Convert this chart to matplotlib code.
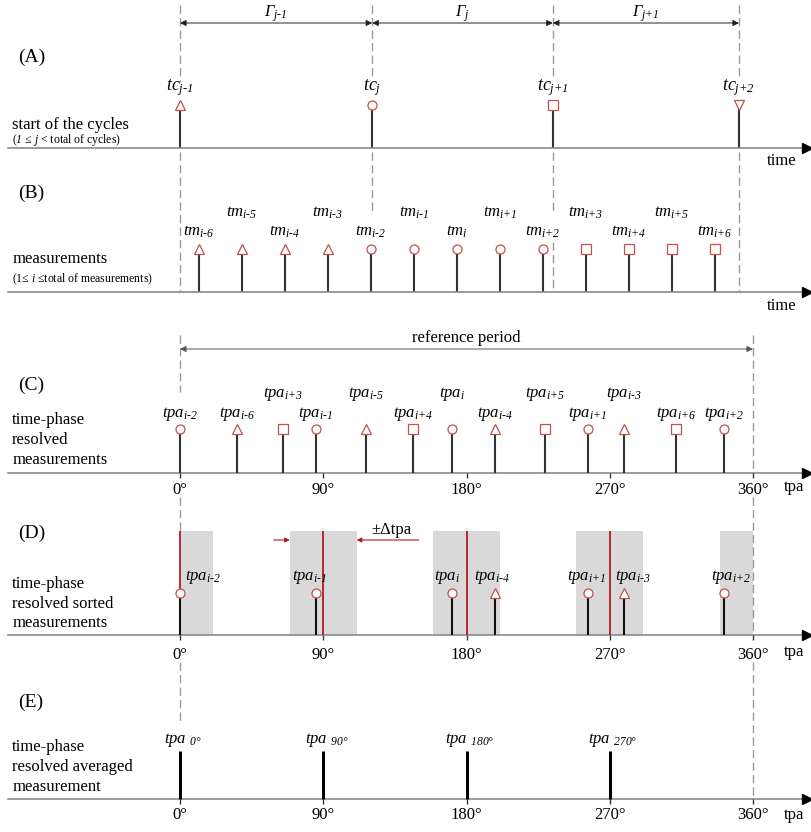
import matplotlib.pyplot as plt
from matplotlib.transforms import blended_transform_factory

plt.rcParams['font.family'] = ['Liberation Serif', 'DejaVu Serif']
plt.rcParams['mathtext.fontset'] = 'custom'
plt.rcParams['mathtext.it'] = 'Liberation Serif:italic'
plt.rcParams['mathtext.rm'] = 'Liberation Serif:italic'

CYCLE_NAMES = ['j-1', 'j', 'j+1', 'j+2']
CYCLE_START = [0.0, 4.47, 8.67, 13.0]          # time, in measurement intervals
MEAS_NAMES = ['i-6', 'i-5', 'i-4', 'i-3', 'i-2', 'i-1', 'i',
              'i+1', 'i+2', 'i+3', 'i+4', 'i+5', 'i+6']
MEAS_TIME = [0.44, 1.44, 2.44, 3.44, 4.44, 5.44, 6.44,
             7.44, 8.44, 9.44, 10.44, 11.44, 12.44]
MEAS_CYCLE = [0, 0, 0, 0, 1, 1, 1, 1, 1, 2, 2, 2, 2]
MEAS_PHASE = [35.6, 116.7, 197.7, 278.8, 0.0, 85.3, 170.9,
              256.1, 342.0, 64.5, 146.6, 229.1, 311.6]   # degrees
PHASE_TICKS = [0, 90, 180, 270, 360]
PHASE_BINS = [0, 90, 180, 270, 360]
AVG_PHASES = [0, 90, 180, 270]
DELTA_TPA = 21.0

# label placement (upper row) for panels B and C
B_UPPER = ['i-5', 'i-3', 'i-1', 'i+1', 'i+3', 'i+5']
C_UPPER = ['i+3', 'i-5', 'i', 'i+5', 'i-3']
# sideways nudge of the panel D labels, in degrees
D_SHIFT = {'i-1': -4, 'i': -3, 'i-4': -2, 'i+1': -1, 'i-3': 6, 'i+2': 4}

# ---- styles / layout (pixel rows from the top) ----
W, H = 812, 832
X0 = 180                       # pixel of time 0 / phase 0
PX_PER_T = 43.0
PX_PER_DEG = 573.0 / 360.0
MARKERS = ['^', 'o', 's', 'v']
MSIZE = {'^': 6.8, 'o': 6.5, 's': 7.0, 'v': 6.8}
MEC = '#c4504c'
STEM = '#333333'
BASE = '#8a8a8a'
DASH = '#9a9a9a'
DRED = '#b01c1c'
BOX = '#d9d9d9'

Y = dict(A_base=148, A_mark=105, A_lab=88, A_dim=23, A_gam=14,
         B_base=292, B_mark=249, B_lo=232, B_hi=213,
         C_base=473, C_mark=429, C_lo=414, C_hi=394, C_ref=349, C_reflab=338,
         D_top=531, D_base=635, D_mark=593, D_lab=577,
         E_base=799, E_top=751, E_lab=740)

SIDE_TEXT = [  # (text, y, size, x)
    ('(A)', 57, 14, 0.022), ('start of the cycles', 125, 12, 0.015),
    (r'($1$ ≤ $j$ < total of cycles)', 139.5, 8.5, 0.015),
    ('(B)', 193, 14, 0.022), ('measurements', 259, 12, 0.015),
    (r'(1≤ $i$ ≤total of measurements)', 279, 8.5, 0.015),
    ('(C)', 385, 14, 0.022), ('time-phase', 420, 12, 0.015),
    ('resolved', 440, 12, 0.015), ('measurements', 460, 12, 0.015),
    ('(D)', 533, 14, 0.022), ('time-phase', 584, 12, 0.015),
    ('resolved sorted', 604, 12, 0.015), ('measurements', 623, 12, 0.015),
    ('(E)', 702, 14, 0.022), ('time-phase', 747, 12, 0.015),
    ('resolved averaged', 767, 12, 0.015), ('measurement', 787, 12, 0.015),
]


def sub(s):
    return s.replace('-', '\u2010').replace('+', '{+}')


fig = plt.figure(figsize=(W / 100, H / 100), dpi=100)
ax_t = fig.add_axes([0, 0, 1, 1], frameon=False)
ax_p = fig.add_axes([0, 0, 1, 1], frameon=False)
for a in (ax_t, ax_p):
    a.set_ylim(H, 0)
    a.axis('off')
ax_t.set_xlim(-X0 / PX_PER_T, (W - X0) / PX_PER_T)
ax_p.set_xlim(-X0 / PX_PER_DEG, (W - X0) / PX_PER_DEG)
lt = blended_transform_factory(ax_p.transAxes, ax_p.transData)

# side labels
for txt, y, fs, x in SIDE_TEXT:
    ax_p.text(x, y, txt, transform=lt, fontsize=fs, ha='left', va='center')

# baselines with arrowheads
for key in ('A_base', 'B_base', 'C_base', 'D_base', 'E_base'):
    ax_p.plot([0.01, 0.992], [Y[key], Y[key]], transform=lt, color=BASE, lw=1.2, zorder=1)
    ax_p.plot(0.9935, Y[key], transform=lt, marker='>', ms=6.5, color='black', zorder=2)
ax_p.text(0.963, 161, 'time', transform=lt, fontsize=12, ha='center', va='center')
ax_p.text(0.963, 306, 'time', transform=lt, fontsize=12, ha='center', va='center')
for y in (487, 652, 815):
    ax_p.text(0.978, y, 'tpa', transform=lt, fontsize=12, ha='center', va='center')

# ---- (A) cycle starts ----
DASH_AB = [[(5, 82), (152, 292)], [(5, 80), (152, 212)],
           [(5, 80), (152, 212), (242, 292)], [(5, 80), (152, 292)]]
for k, t in enumerate(CYCLE_START):
    for y0, y1 in DASH_AB[k]:
        ax_t.plot([t, t], [y0, y1], color=DASH, lw=1, ls=(0, (6, 3)), zorder=1)
    ax_t.vlines(t, Y['A_mark'], Y['A_base'], color=STEM, lw=1.5, zorder=2)
    m = MARKERS[k]
    ax_t.plot(t, Y['A_mark'], marker=m, ms=MSIZE[m], mfc='white', mec=MEC, mew=0.9, zorder=3)
    ax_t.text(t, Y['A_lab'], f'$tc_{{{sub(CYCLE_NAMES[k])}}}$', fontsize=13,
              ha='center', va='center')
for k in range(len(CYCLE_START) - 1):
    a, b = CYCLE_START[k], CYCLE_START[k + 1]
    ax_t.annotate('', xy=(b, Y['A_dim']), xytext=(a, Y['A_dim']),
                  arrowprops=dict(arrowstyle='<|-|>', color='#222222', lw=0.7,
                                  mutation_scale=9, shrinkA=0, shrinkB=0))
    ax_t.text((a + b) / 2, Y['A_gam'], rf'$\Gamma_{{{sub(CYCLE_NAMES[k])}}}$',
              fontsize=12, ha='center', va='center')

# ---- (B) measurements in time ----
for name, t, c in zip(MEAS_NAMES, MEAS_TIME, MEAS_CYCLE):
    m = MARKERS[c]
    ax_t.vlines(t, Y['B_mark'], Y['B_base'], color=STEM, lw=1.5, zorder=2)
    ax_t.plot(t, Y['B_mark'], marker=m, ms=MSIZE[m], mfc='white', mec=MEC, mew=0.9, zorder=3)
    y = Y['B_hi'] if name in B_UPPER else Y['B_lo']
    ax_t.text(t, y, f'$tm_{{{sub(name)}}}$', fontsize=12, ha='center', va='center')

# ---- phase axes dashed guides ----
for y0, y1 in [(335, 392), (497, 531), (662, 722)]:
    ax_p.plot([0, 0], [y0, y1], color=DASH, lw=1, ls=(0, (6, 3)), zorder=1)
for y0, y1 in [(335, Y['C_base']), (497, Y['D_base']), (662, Y['E_base'])]:
    ax_p.plot([360, 360], [y0, y1], color=DASH, lw=1, ls=(0, (6, 3)), zorder=1)
for base, lab in [(Y['C_base'], 490), (Y['D_base'], 655), (Y['E_base'], 815)]:
    ax_p.vlines(PHASE_TICKS, base, base + 5, color='#333333', lw=1.0, zorder=1)
    for p in PHASE_TICKS:
        ax_p.text(p, lab, f'{p}°', fontsize=12, ha='center', va='center')

# ---- (C) time-phase resolved ----
ax_p.annotate('', xy=(360, Y['C_ref']), xytext=(0, Y['C_ref']),
              arrowprops=dict(arrowstyle='<|-|>', color='#555555', lw=0.7,
                              mutation_scale=9, shrinkA=0, shrinkB=0))
ax_p.text(180, Y['C_reflab'], 'reference period', fontsize=12, ha='center', va='center')
for name, p, c in zip(MEAS_NAMES, MEAS_PHASE, MEAS_CYCLE):
    m = MARKERS[c]
    ax_p.vlines(p, Y['C_mark'], Y['C_base'], color=STEM, lw=1.5, zorder=2)
    ax_p.plot(p, Y['C_mark'], marker=m, ms=MSIZE[m], mfc='white', mec=MEC, mew=0.9, zorder=3)
    y = Y['C_hi'] if name in C_UPPER else Y['C_lo']
    ax_p.text(p, y, f'$tpa_{{{sub(name)}}}$', fontsize=12, ha='center', va='center')

# ---- (D) sorted into phase windows ----
lefts = [max(0, c - DELTA_TPA) for c in PHASE_BINS]
rights = [min(360, c + DELTA_TPA) for c in PHASE_BINS]
ax_p.bar(lefts, Y['D_base'] - Y['D_top'], width=[r - l for l, r in zip(lefts, rights)],
         bottom=Y['D_top'], align='edge', color=BOX, zorder=0)
ax_p.vlines(AVG_PHASES, Y['D_top'], Y['D_base'], color=DRED, lw=1.3, zorder=2)
for name, p, c in zip(MEAS_NAMES, MEAS_PHASE, MEAS_CYCLE):
    if min(abs(p - b) for b in PHASE_BINS) > DELTA_TPA:
        continue
    m = MARKERS[c]
    ax_p.vlines(p, Y['D_mark'], Y['D_base'], color='#111111', lw=1.5, zorder=3)
    ax_p.plot(p, Y['D_mark'], marker=m, ms=MSIZE[m], mfc='white', mec=MEC, mew=0.9, zorder=4)
    if p == 0:
        ax_p.text(p + 3, Y['D_lab'], f'$tpa_{{{sub(name)}}}$', fontsize=12,
                  ha='left', va='center')
    else:
        ax_p.text(p + D_SHIFT.get(name, 0), Y['D_lab'], f'$tpa_{{{sub(name)}}}$',
                  fontsize=12, ha='center', va='center')
ax_p.annotate('', xy=(90 - DELTA_TPA, 540), xytext=(90 - DELTA_TPA - 10, 540),
              arrowprops=dict(arrowstyle='-|>', color=DRED, lw=0.8,
                              mutation_scale=7, shrinkA=0, shrinkB=0))
ax_p.annotate('', xy=(90 + DELTA_TPA, 540), xytext=(90 + DELTA_TPA + 39, 540),
              arrowprops=dict(arrowstyle='-|>', color=DRED, lw=0.8,
                              mutation_scale=7, shrinkA=0, shrinkB=0))
ax_p.text(90 + DELTA_TPA + 9, 530, '±Δtpa', fontsize=12, ha='left', va='center')

# ---- (E) averaged ----
ax_p.vlines(AVG_PHASES, Y['E_top'], Y['E_base'], color='black', lw=2.2, zorder=2)
for p in AVG_PHASES:
    ax_p.text(p + 2, Y['E_lab'], rf'$tpa\ _{{{p}°}}$', fontsize=12, ha='center', va='center')

fig.savefig('out.png', dpi=100)
